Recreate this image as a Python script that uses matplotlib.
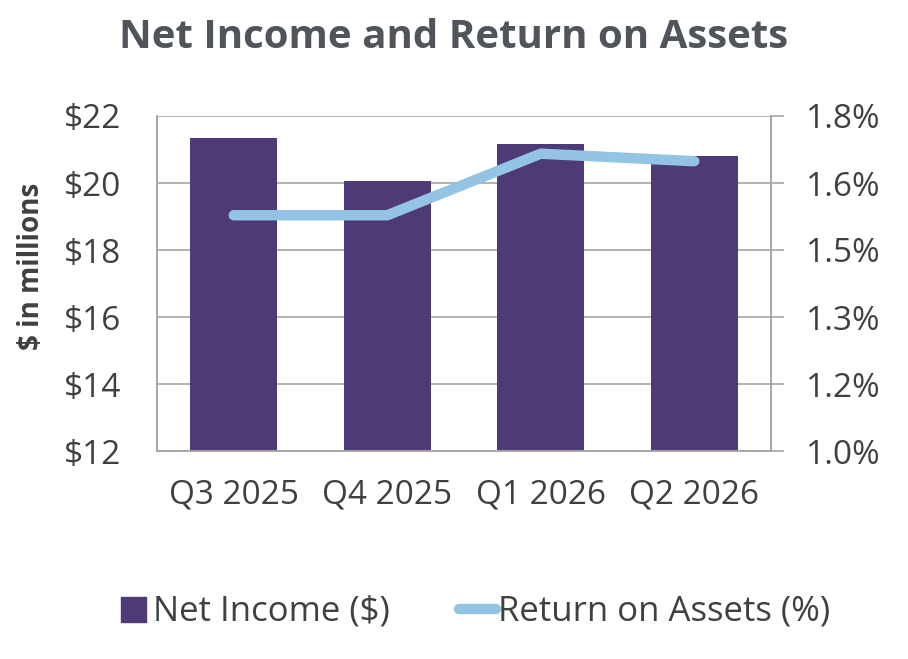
import matplotlib
matplotlib.use("Agg")
import matplotlib.pyplot as plt
from matplotlib.lines import Line2D
from matplotlib.ticker import FuncFormatter

quarters = ["Q3 2025", "Q4 2025", "Q1 2026", "Q2 2026"]
net_income = [21.33, 20.05, 21.15, 20.8]
roa = [1.563, 1.563, 1.71, 1.692]

bar_color = "#4E3A76"
line_color = "#93C4E4"
text_color = "#404040"
grid_color = "#A6A6A6"

plt.rcParams["font.family"] = ["Open Sans", "DejaVu Sans"]

fig = plt.figure(figsize=(9.08, 6.59), dpi=100)
ax = fig.add_axes([157 / 908, 1 - 451 / 659, 614 / 908, 335 / 659])
ax2 = ax.twinx()

x = range(len(quarters))
ax.bar(x, net_income, width=0.57, color=bar_color, zorder=2)
ax2.plot(x, roa, color=line_color, lw=7.5, solid_capstyle="round",
         solid_joinstyle="round", zorder=3)

ax.set_xlim(-0.5, 3.5)
ax.set_ylim(12, 22)
ax.set_yticks([12, 14, 16, 18, 20, 22])
ax.yaxis.set_major_formatter(FuncFormatter(lambda v, p: "$%d" % v))
ax2.set_ylim(1.0, 1.8)
ax2.set_yticks([1.0, 1.16, 1.32, 1.48, 1.64, 1.8])
ax2.yaxis.set_major_formatter(FuncFormatter(lambda v, p: "%.1f%%" % v))

ax.set_xticks(list(x))
ax.set_xticklabels(quarters)

ax.grid(axis="y", color=grid_color, lw=1.2, zorder=0)
ax.set_axisbelow(True)

for a in (ax, ax2):
    a.spines["top"].set_visible(False)
    for s in ("left", "right", "bottom"):
        a.spines[s].set_color(grid_color)
        a.spines[s].set_linewidth(1.2)

ax.tick_params(axis="y", length=0, pad=26, labelsize=24, labelcolor=text_color)
ax.tick_params(axis="x", length=0, pad=20, labelsize=24, labelcolor=text_color)
ax2.tick_params(axis="y", length=9, width=1.2, color=grid_color, pad=16,
                labelsize=24, labelcolor=text_color)

fig.text(0.5, 1 - 37 / 659, "Net Income and Return on Assets", ha="center",
         va="center", fontsize=29, fontweight="bold", color="#50555C")
fig.text(32 / 908, 1 - 266 / 659, "$ in millions", rotation=90, ha="center",
         va="center", fontsize=20, fontweight="bold", color=text_color)

handles = [
    Line2D([], [], marker="s", ls="none", markersize=18, color=bar_color),
    Line2D([], [], color=line_color, lw=7.5, solid_capstyle="round"),
]
fig.legend(handles, ["Net Income ($)", "Return on Assets (%)"],
           loc="center", bbox_to_anchor=(0.52, 1 - 612 / 659), ncol=2,
           frameon=False, fontsize=25, handlelength=1.07, handletextpad=0.05,
           columnspacing=2.0, labelcolor=text_color)

fig.savefig("out.png", dpi=100)
